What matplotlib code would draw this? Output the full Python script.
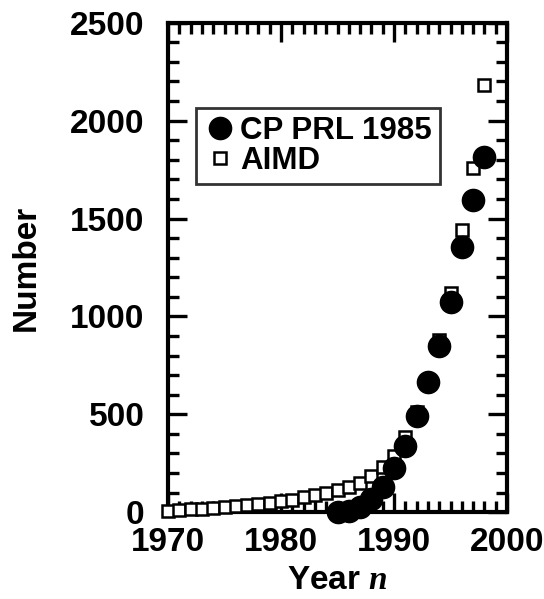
import matplotlib
matplotlib.use("Agg")
import matplotlib.pyplot as plt
from matplotlib.ticker import MultipleLocator

plt.rcParams['font.family'] = ['Liberation Sans', 'DejaVu Sans']
plt.rcParams['font.weight'] = 'bold'
plt.rcParams['mathtext.fontset'] = 'custom'
plt.rcParams['mathtext.it'] = 'Liberation Serif:italic:bold'

# CP PRL 1985 citations
cp_years = [1985, 1986, 1987, 1988, 1989, 1990, 1991, 1992, 1993, 1994, 1995, 1996, 1997, 1998]
cp_counts = [2, 6, 25, 65, 130, 225, 340, 490, 665, 850, 1075, 1355, 1595, 1815]

# AIMD papers
aimd_years = list(range(1970, 1999))
aimd_counts = [8, 11, 14, 17, 21, 25, 29, 34, 40, 47, 55, 63, 75, 88, 100, 115, 130, 150,
               185, 230, 285, 385, 510, 670, 880, 1120, 1440, 1760, 2180]

fig = plt.figure(figsize=(5.44, 5.99), dpi=100)
ax = fig.add_axes([0.309, 0.145, 0.623, 0.817])

ax.plot(aimd_years, aimd_counts, ls='none', marker='s', ms=8, mfc='white', mec='black',
        mew=1.8, clip_on=False, label='AIMD', zorder=3)
ax.plot(cp_years, cp_counts, ls='none', marker='o', ms=16, mfc='black', mec='black',
        clip_on=False, label='CP PRL 1985', zorder=4)

ax.set_xlim(1970, 2000)
ax.set_ylim(0, 2500)
ax.xaxis.set_major_locator(MultipleLocator(10))
ax.xaxis.set_minor_locator(MultipleLocator(1))
ax.yaxis.set_major_locator(MultipleLocator(500))
ax.yaxis.set_minor_locator(MultipleLocator(100))
ax.tick_params(which='both', direction='in', top=True, right=True, width=2.4)
ax.tick_params(which='major', length=14, labelsize=24)
ax.tick_params(axis='y', which='major', pad=17)
ax.tick_params(axis='x', which='major', pad=11)
ax.tick_params(which='minor', length=8)
for sp in ax.spines.values():
    sp.set_linewidth(3)

ax.set_xlabel('Year $n$', fontsize=24, fontweight='bold', labelpad=5)
ax.set_ylabel('Number', fontsize=24, fontweight='bold', labelpad=20)

handles, labels = ax.get_legend_handles_labels()
leg = ax.legend(handles[::-1], labels[::-1], loc='upper left', bbox_to_anchor=(0.083, 0.826),
                fontsize=22.5, frameon=True, fancybox=False, edgecolor='black',
                handlelength=1.0, handletextpad=0.15, borderpad=0.25, labelspacing=0.02,
                borderaxespad=0)
leg.get_frame().set_linewidth(2)
for h in leg.legend_handles:
    h.set_clip_on(False)

fig.savefig('out.png', dpi=100)
